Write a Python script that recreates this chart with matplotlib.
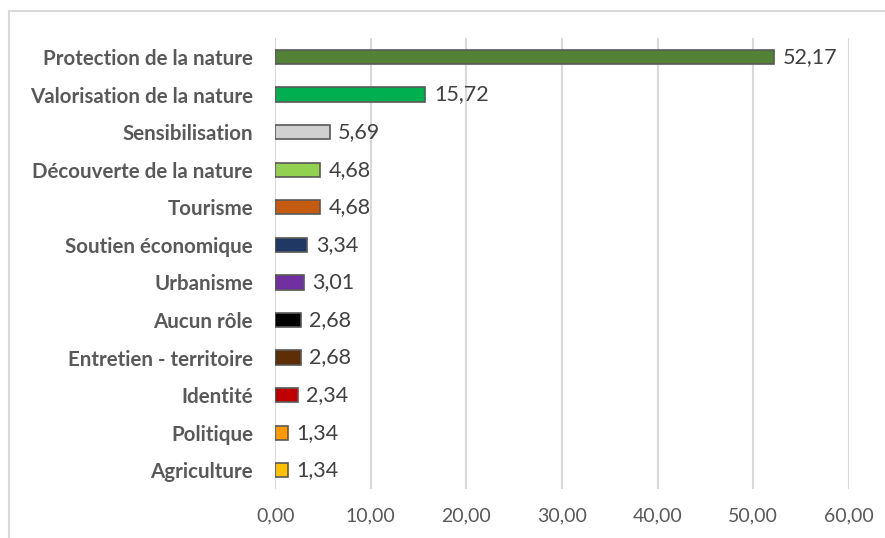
import matplotlib.pyplot as plt
from matplotlib.patches import Rectangle
from matplotlib.ticker import FuncFormatter

categories = ['Protection de la nature', 'Valorisation de la nature', 'Sensibilisation',
              'Découverte de la nature', 'Tourisme', 'Soutien économique', 'Urbanisme',
              'Aucun rôle', 'Entretien - territoire', 'Identité', 'Politique', 'Agriculture']
values = [52.17, 15.72, 5.69, 4.68, 4.68, 3.34, 3.01, 2.68, 2.68, 2.34, 1.34, 1.34]
colors = ['#538135', '#00B050', '#D0D0D0', '#92D050', '#C55A11', '#1F3864', '#7030A0',
          '#000000', '#5E2F06', '#C00000', '#FF9900', '#FFC000']
xticks = [0, 10, 20, 30, 40, 50, 60]

plt.rcParams['font.family'] = ['Lato', 'DejaVu Sans']
grey = '#595959'

fig = plt.figure(figsize=(8.85, 5.38), dpi=100)
ax = fig.add_axes([0.311, 0.091, 0.648, 0.838])

# cadre gris autour du graphique
fig.patches.append(Rectangle((9 / 885, -0.1), 1.2, 1 - 11 / 538 + 0.1, transform=fig.transFigure,
                             fill=False, edgecolor='#D9D9D9', linewidth=1.5))

y = list(range(len(categories)))
ax.barh(y, values, height=0.38, color=colors, edgecolor='#595959', linewidth=1.2, zorder=3)
for yi, v in zip(y, values):
    ax.text(v + 0.9, yi, f'{v:.2f}'.replace('.', ','), va='center', ha='left',
            fontsize=15.5, color='#404040')

ax.set_xlim(0, 60)
ax.set_ylim(len(categories) - 0.5, -0.5)
ax.set_yticks(y)
ax.set_yticklabels(categories, fontsize=14.8, fontweight='bold', color=grey)
ax.set_xticks(xticks)
ax.xaxis.set_major_formatter(FuncFormatter(lambda x, p: f'{x:.2f}'.replace('.', ',')))
ax.tick_params(axis='x', labelsize=14, labelcolor=grey, length=0, pad=13)
ax.tick_params(axis='y', length=0, pad=16)
ax.grid(axis='x', color='#D9D9D9', linewidth=1.5, zorder=0)
for s in ax.spines.values():
    s.set_visible(False)

plt.savefig('out.png', dpi=100)
